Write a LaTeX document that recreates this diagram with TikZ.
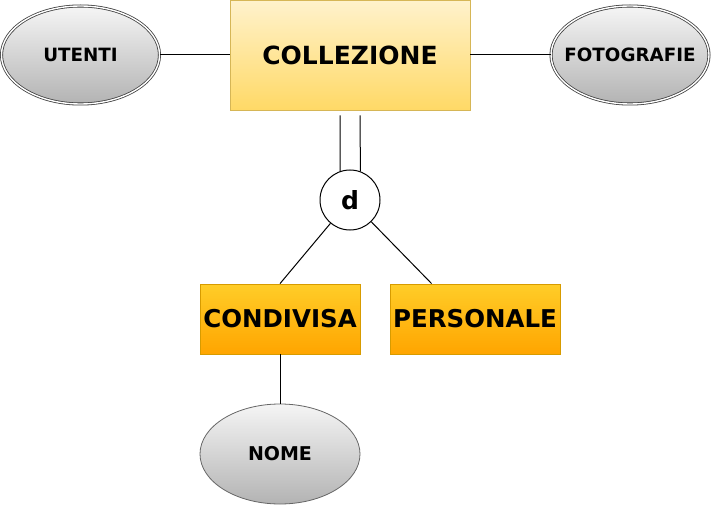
\documentclass[tikz,border=0pt]{standalone}
\usepackage{fontspec}
\setmainfont{DejaVu Sans}
\usetikzlibrary{shapes.geometric}

\definecolor{entTop}{HTML}{FFF2CC}
\definecolor{entBot}{HTML}{FFD966}
\definecolor{entLine}{HTML}{D6B656}
\definecolor{subTop}{HTML}{FFCD28}
\definecolor{subBot}{HTML}{FFA500}
\definecolor{subLine}{HTML}{D79B00}
\definecolor{attrTop}{HTML}{F5F5F5}
\definecolor{attrBot}{HTML}{B3B3B3}
\definecolor{attrLine}{HTML}{666666}

\begin{document}
\begin{tikzpicture}[x=1pt, y=-1pt, line width=1pt,
    attr/.style={ellipse, draw=attrLine, line width=0.8pt, top color=attrTop, bottom color=attrBot,
        minimum width=158pt, minimum height=98pt, inner xsep=-20pt, inner ysep=0pt,
        font=\bfseries\fontsize{18.3}{20}\selectfont},
    multiattr/.style={attr, draw=black!75, double=white, double distance=1.4pt},
    entity/.style={rectangle, draw=entLine, line width=0.8pt, top color=entTop, bottom color=entBot,
        minimum width=240pt, minimum height=110pt, inner sep=0pt, font=\bfseries\fontsize{25}{28}\selectfont},
    subent/.style={rectangle, draw=subLine, line width=0.8pt, top color=subTop, bottom color=subBot,
        minimum height=70pt, inner sep=0pt, font=\bfseries\fontsize{24.5}{28}\selectfont}]

    % 画布范围
    \useasboundingbox (0,0) rectangle (711,505);

    % 实体与属性
    \node[entity] (coll) at (350,55) {COLLEZIONE};
    \node[multiattr] (utenti) at (80.5,55) {UTENTI};
    \node[multiattr] (foto) at (630,55) {FOTOGRAFIE};

    % 属性连线
    \draw (utenti) -- (coll);
    \draw (coll) -- (foto);

    % 特化圆圈
    \node[circle, draw, fill=white, minimum size=60pt, inner sep=0pt,
        font=\bfseries\fontsize{25}{28}\selectfont] (disj) at (350,200) {d};

    % 双线(完全特化)
    \coordinate (gl) at ([xshift=-10pt,yshift=-5pt]coll.south);
    \coordinate (gr) at ([xshift=10pt,yshift=-5pt]coll.south);
    \draw (gl) -- (disj.109.5);
    \draw (gr) -- (disj.70.5);

    % 子实体
    \node[subent, minimum width=160pt] (cond) at (280,319) {CONDIVISA};
    \node[subent, minimum width=170pt] (pers) at (475,319) {PERSONALE};
    \coordinate (pin) at ([xshift=42pt]pers.north west);
    \draw (disj) -- (cond.north);
    \draw (disj) -- (pin);

    % 子实体属性
    \node[attr, minimum width=160pt, minimum height=100pt,
        font=\bfseries\fontsize{19}{21}\selectfont] (nome) at (280,454) {NOME};
    \draw (cond) -- (nome);

\end{tikzpicture}
\end{document}
